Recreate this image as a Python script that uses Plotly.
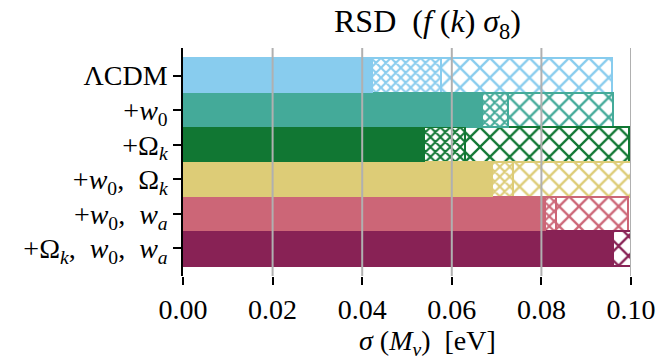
import plotly.graph_objects as go

# Model labels (top to bottom)
labels = [
    "ΛCDM",
    "+<i>w</i><sub>0</sub>",
    "+Ω<sub><i>k</i></sub>",
    "+<i>w</i><sub>0</sub>,  Ω<sub><i>k</i></sub>",
    "+<i>w</i><sub>0</sub>,  <i>w</i><sub><i>a</i></sub>",
    "+Ω<sub><i>k</i></sub>,  <i>w</i><sub>0</sub>,  <i>w</i><sub><i>a</i></sub>",
]
colors = ["#88CCEE", "#44AA99", "#117733", "#DDCC77", "#CC6677", "#882255"]

# sigma(M_nu) [eV] for three scenarios
sigma_best = [0.0424, 0.0669, 0.0540, 0.0692, 0.0811, 0.0959]
sigma_mid = [0.0575, 0.0725, 0.0629, 0.0736, 0.0832, 0.0960]
sigma_worst = [0.0957, 0.0959, 0.0995, 0.1050, 0.0993, 0.1050]

xticks = [0.00, 0.02, 0.04, 0.06, 0.08, 0.10]

FONT = "Liberation Serif"
FS = 28

ypos = list(range(len(labels)))

fig = go.Figure()

# widest, sparse hatch
fig.add_trace(go.Bar(
    y=ypos, x=sigma_worst, orientation="h", width=1.0,
    marker=dict(color="white", line=dict(color=colors, width=2),
                pattern=dict(shape="x", fgcolor=colors, bgcolor="white",
                             size=14, solidity=0.3, fillmode="replace")),
    showlegend=False, hoverinfo="skip"))
# middle, dense hatch
fig.add_trace(go.Bar(
    y=ypos, x=sigma_mid, orientation="h", width=1.0,
    marker=dict(color="white", line=dict(color=colors, width=2),
                pattern=dict(shape="x", fgcolor=colors, bgcolor="white",
                             size=7, solidity=0.5, fillmode="replace")),
    showlegend=False, hoverinfo="skip"))
# solid bars
fig.add_trace(go.Bar(
    y=ypos, x=sigma_best, orientation="h", width=1.0,
    marker=dict(color=colors, line=dict(width=0)),
    showlegend=False, hoverinfo="skip"))

# vertical grid drawn over the bars
for xv in xticks[1:]:
    fig.add_shape(type="line", xref="x", yref="paper", x0=xv, x1=xv, y0=0, y1=1,
                  line=dict(color="#b0b0b0", width=2), layer="above")

fig.update_layout(
    width=659, height=364,
    margin=dict(l=183, r=28, t=48, b=88, autoexpand=False),
    paper_bgcolor="white", plot_bgcolor="white",
    barmode="overlay", bargap=0,
    font=dict(family=FONT, size=FS, color="black"),
    xaxis=dict(range=[0, 0.1], tickvals=xticks, automargin=False,
               ticktext=[f"{v:.2f}" for v in xticks],
               showgrid=False, zeroline=False, showline=False,
               ticks="outside", ticklen=8, tickwidth=1.5, tickcolor="black",
               ticklabelstandoff=0,
               tickfont=dict(family=FONT, size=FS)),
    yaxis=dict(range=[5.8, -0.8], tickvals=ypos, ticktext=labels, automargin=False,
               showgrid=False, zeroline=False, showline=True,
               linecolor="black", linewidth=1.5,
               ticks="outside", ticklen=8, tickwidth=1.5, tickcolor="black",
               tickfont=dict(family=FONT, size=FS)),
    annotations=[
        dict(text="RSD  (<i>f</i> (<i>k</i>) <i>σ</i><sub>8</sub>)",
             xref="paper", yref="paper", x=0.546, y=1.0, yshift=47,
             xanchor="center", yanchor="top", showarrow=False,
             font=dict(family=FONT, size=32)),
        dict(text="<i>σ</i> (<i>M<sub>ν</sub></i>)  [eV]",
             xref="paper", yref="paper", x=0.546, y=0, yshift=-47,
             xanchor="center", yanchor="top", showarrow=False,
             font=dict(family=FONT, size=28)),
    ],
)

fig.write_html("out.html")
